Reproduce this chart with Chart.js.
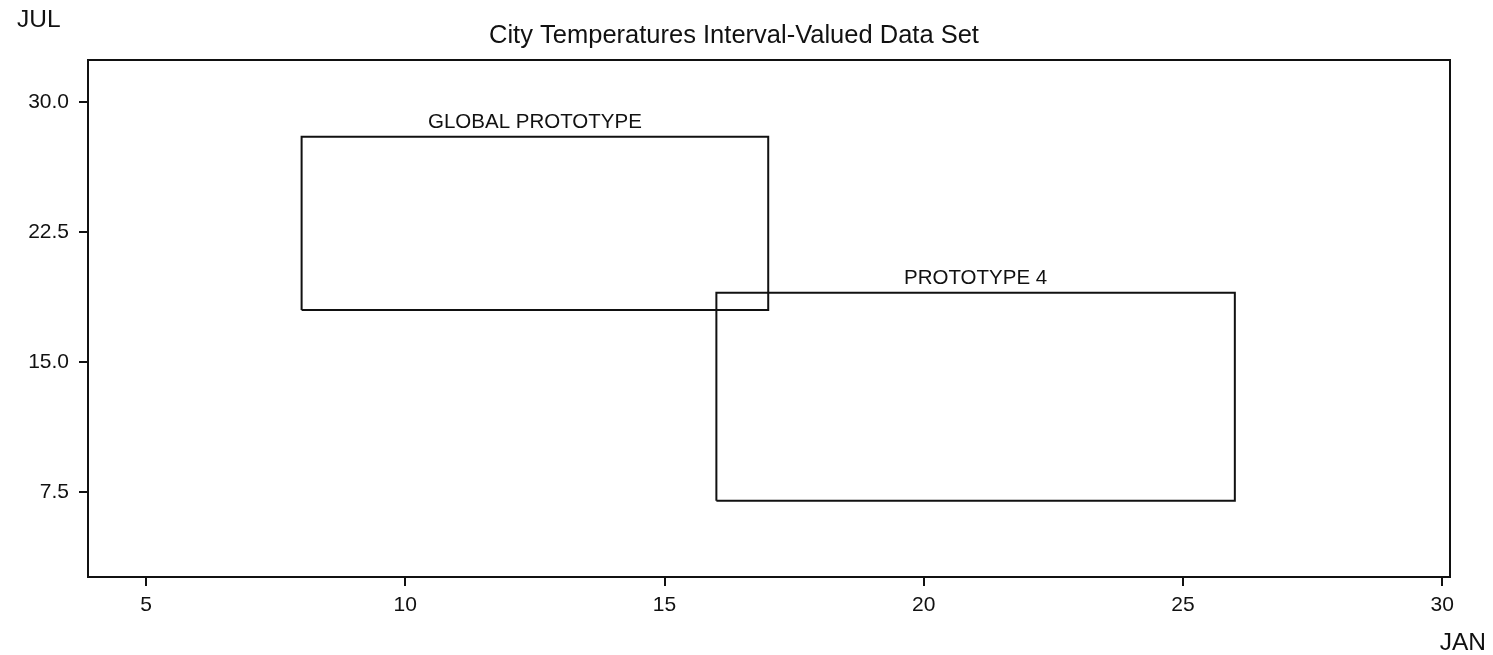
<!DOCTYPE html>
<html>
<head>
<meta charset="utf-8">
<script src="https://cdn.jsdelivr.net/npm/chart.js@4"></script>
<style>
  html, body { margin: 0; padding: 0; background: #fff; }
  #wrap { width: 1493px; height: 655px; }
</style>
</head>
<body>
<div id="wrap"><canvas id="chartCanvas" width="1493" height="655"></canvas></div>
<script>
// data
const prototypeNames = ['GLOBAL PROTOTYPE', 'PROTOTYPE 4'];
const janMin = [8, 16];
const janMax = [17, 26];
const julMin = [18, 7];
const julMax = [28, 19];

const xTicks = [5, 10, 15, 20, 25, 30];
const yTicks = [7.5, 15, 22.5, 30];

const FONT = '"Liberation Sans", Arial, sans-serif';

// each interval rectangle as a closed line
const datasets = prototypeNames.map((name, i) => ({
    label: name,
    data: [
        {x: janMin[i], y: julMin[i]},
        {x: janMax[i], y: julMin[i]},
        {x: janMax[i], y: julMax[i]},
        {x: janMin[i], y: julMax[i]},
        {x: janMin[i], y: julMin[i]}
    ],
    showLine: true,
    borderColor: '#111',
    borderWidth: 2,
    pointRadius: 0,
    fill: false,
    tension: 0
}));

// frame, title, axis names and box labels
const extras = {
    id: 'extras',
    afterDraw(chart) {
        const ctx = chart.ctx;
        const a = chart.chartArea;
        const xs = chart.scales.x, ys = chart.scales.y;
        ctx.save();
        ctx.strokeStyle = '#111';
        ctx.lineWidth = 2;
        ctx.strokeRect(a.left, a.top, a.right - a.left, a.bottom - a.top);

        ctx.fillStyle = '#111';
        ctx.font = '25.5px ' + FONT;
        ctx.textAlign = 'center';
        ctx.textBaseline = 'middle';
        ctx.fillText('City Temperatures Interval-Valued Data Set', 734, 36);

        ctx.font = '24.5px ' + FONT;
        ctx.textAlign = 'left';
        ctx.fillText('JUL', 17, 20);
        ctx.textAlign = 'right';
        ctx.fillText('JAN', 1486, 643);

        ctx.font = '20.5px ' + FONT;
        ctx.textAlign = 'center';
        ctx.textBaseline = 'bottom';
        prototypeNames.forEach((name, i) => {
            const cx = (xs.getPixelForValue(janMin[i]) + xs.getPixelForValue(janMax[i])) / 2;
            const ty = ys.getPixelForValue(julMax[i]);
            ctx.fillText(name, cx, ty - 4);
        });
        ctx.restore();
    }
};

const config = {
    type: 'scatter',
    data: { datasets: datasets },
    options: {
        responsive: false,
        animation: false,
        layout: { padding: { left: 0, right: 43, top: 60, bottom: 0 } },
        plugins: {
            legend: { display: false },
            tooltip: { enabled: false },
            title: { display: false }
        },
        scales: {
            x: {
                type: 'linear',
                min: 3.88,
                max: 30.15,
                afterBuildTicks: (s) => { s.ticks = xTicks.map(v => ({value: v})); },
                afterFit: (s) => { s.height = 78; },
                border: { display: true, color: '#111', width: 2 },
                grid: { drawOnChartArea: false, drawTicks: true, tickLength: 9, color: '#111', lineWidth: 2 },
                ticks: { color: '#111', font: { family: FONT, size: 21 }, padding: 7, maxRotation: 0,
                    callback: (v) => String(v) }
            },
            y: {
                type: 'linear',
                min: 2.6,
                max: 32.42,
                afterBuildTicks: (s) => { s.ticks = yTicks.map(v => ({value: v})); },
                afterFit: (s) => { s.width = 88; },
                border: { display: true, color: '#111', width: 2 },
                grid: { drawOnChartArea: false, drawTicks: true, tickLength: 9, color: '#111', lineWidth: 2 },
                ticks: { color: '#111', font: { family: FONT, size: 21 }, padding: 10,
                    callback: (v) => Number(v).toFixed(1) }
            }
        }
    },
    plugins: [extras]
};

const myChart = new Chart(document.getElementById('chartCanvas'), config);
</script>
</body>
</html>
